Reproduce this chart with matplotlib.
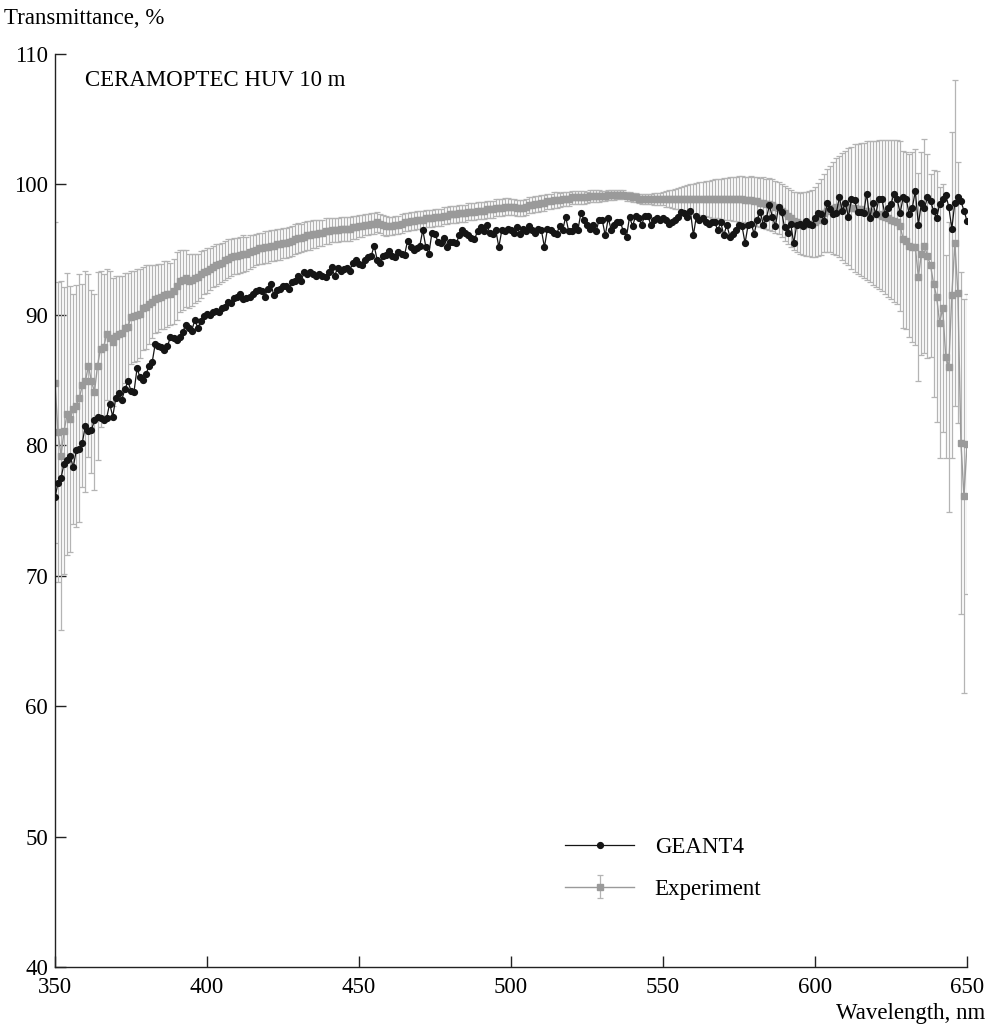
import numpy as np
import matplotlib
matplotlib.use('Agg')
import matplotlib.pyplot as plt

plt.rcParams['font.family'] = ['Liberation Serif', 'DejaVu Serif']
plt.rcParams['mathtext.fontset'] = 'stix'

# GEANT4 simulation, 350..650 nm, 1 nm step
geant4 = [
    76.0, 77.1, 77.5, 78.6, 78.9, 79.2, 78.3, 79.6, 79.7, 80.2,   # 350
    81.5, 81.1, 81.2, 81.9, 82.2, 82.1, 81.9, 82.1, 83.2, 82.2,   # 360
    83.6, 84.0, 83.5, 84.3, 84.9, 84.2, 84.1, 85.9, 85.2, 85.0,   # 370
    85.5, 86.1, 86.4, 87.8, 87.6, 87.5, 87.3, 87.6, 88.3, 88.2,   # 380
    88.1, 88.3, 88.7, 89.2, 89.0, 88.8, 89.6, 89.0, 89.5, 89.9,   # 390
    90.1, 90.0, 90.2, 90.3, 90.2, 90.5, 90.6, 91.0, 90.9, 91.3,   # 400
    91.4, 91.6, 91.2, 91.3, 91.4, 91.6, 91.8, 91.9, 91.8, 91.4,   # 410
    92.0, 92.4, 91.5, 91.9, 92.0, 92.2, 92.2, 92.0, 92.5, 92.6,   # 420
    93.0, 92.6, 93.3, 93.1, 93.3, 93.1, 93.0, 93.1, 93.0, 92.9,   # 430
    93.3, 93.7, 93.0, 93.6, 93.4, 93.5, 93.6, 93.4, 94.0, 94.2,   # 440
    93.9, 93.8, 94.2, 94.4, 94.5, 95.3, 94.2, 94.0, 94.5, 94.6,   # 450
    94.9, 94.5, 94.4, 94.8, 94.7, 94.6, 95.7, 95.2, 95.0, 95.1,   # 460
    95.3, 96.5, 95.2, 94.7, 96.3, 96.2, 95.6, 95.5, 95.9, 95.2,   # 470
    95.6, 95.6, 95.5, 96.1, 96.5, 96.3, 96.1, 95.9, 95.8, 96.4,   # 480
    96.7, 96.4, 96.9, 96.3, 96.2, 96.5, 95.2, 96.5, 96.4, 96.6,   # 490
    96.5, 96.3, 96.7, 96.2, 96.6, 96.4, 96.8, 96.5, 96.3, 96.6,   # 500
    96.5, 95.2, 96.6, 96.5, 96.3, 96.2, 96.8, 96.5, 97.5, 96.4,   # 510
    96.4, 96.8, 96.5, 97.8, 97.3, 96.9, 96.6, 96.9, 96.4, 97.3,   # 520
    97.3, 96.1, 97.4, 96.5, 96.9, 97.1, 97.1, 96.4, 96.0, 97.5,   # 530
    96.8, 97.6, 97.4, 96.9, 97.6, 97.6, 96.9, 97.3, 97.4, 97.3,   # 540
    97.4, 97.3, 97.0, 97.1, 97.3, 97.5, 97.9, 97.8, 97.5, 98.0,   # 550
    96.1, 97.6, 97.3, 97.4, 97.1, 97.0, 97.1, 97.1, 96.5, 97.1,   # 560
    96.1, 96.9, 96.0, 96.2, 96.5, 96.9, 96.8, 95.5, 96.9, 97.0,   # 570
    96.2, 97.3, 97.9, 96.9, 97.4, 98.4, 97.5, 96.8, 98.3, 97.9,   # 580
    96.7, 96.3, 97.0, 95.5, 96.9, 97.0, 96.8, 97.2, 97.0, 96.9,   # 590
    97.4, 97.8, 97.7, 97.2, 98.6, 98.1, 97.7, 97.8, 99.0, 98.0,   # 600
    98.6, 97.5, 98.9, 98.8, 97.9, 97.9, 97.8, 99.3, 97.4, 98.6,   # 610
    97.7, 98.9, 98.9, 97.7, 98.2, 98.5, 99.3, 98.9, 97.8, 99.0,   # 620
    98.9, 97.7, 98.2, 99.5, 96.9, 98.6, 98.2, 99.0, 98.7, 98.0,   # 630
    97.4, 98.5, 98.9, 99.2, 98.3, 96.6, 98.6, 99.0, 98.7, 98.0,   # 640
    97.2,                                                         # 650
]

# Experiment, 350..650 nm, 1 nm step
experiment = [
    84.8, 81.0, 79.2, 81.1, 82.4, 82.0, 82.8, 83.0, 83.6, 84.6,   # 350
    84.9, 86.1, 84.9, 84.1, 86.1, 87.4, 87.5, 88.5, 88.2, 87.9,   # 360
    88.4, 88.5, 88.6, 89.0, 89.1, 89.8, 89.9, 90.0, 90.1, 90.5,   # 370
    90.6, 90.8, 91.0, 91.2, 91.3, 91.4, 91.5, 91.6, 91.6, 91.8,   # 380
    92.2, 92.6, 92.7, 92.8, 92.6, 92.7, 92.8, 92.9, 93.1, 93.3,   # 390
    93.4, 93.5, 93.7, 93.8, 93.9, 94.0, 94.2, 94.3, 94.4, 94.5,   # 400
    94.5, 94.6, 94.7, 94.7, 94.8, 94.9, 95.0, 95.1, 95.1, 95.2,   # 410
    95.2, 95.3, 95.3, 95.4, 95.4, 95.5, 95.5, 95.6, 95.7, 95.8,   # 420
    95.9, 95.9, 96.0, 96.1, 96.1, 96.2, 96.2, 96.3, 96.3, 96.4,   # 430
    96.4, 96.5, 96.5, 96.5, 96.6, 96.6, 96.6, 96.6, 96.7, 96.7,   # 440
    96.8, 96.8, 96.9, 96.9, 97.0, 97.0, 97.1, 97.0, 96.9, 96.8,   # 450
    96.8, 96.8, 96.9, 96.9, 97.0, 97.1, 97.1, 97.2, 97.2, 97.3,   # 460
    97.3, 97.3, 97.4, 97.4, 97.4, 97.5, 97.5, 97.5, 97.6, 97.6,   # 470
    97.7, 97.7, 97.7, 97.8, 97.8, 97.8, 97.9, 97.9, 97.9, 98.0,   # 480
    98.0, 98.0, 98.1, 98.1, 98.1, 98.2, 98.2, 98.2, 98.3, 98.3,   # 490
    98.3, 98.3, 98.2, 98.2, 98.2, 98.3, 98.4, 98.4, 98.5, 98.5,   # 500
    98.6, 98.6, 98.7, 98.7, 98.8, 98.8, 98.8, 98.9, 98.9, 98.9,   # 510
    99.0, 99.0, 99.0, 99.0, 99.0, 99.0, 99.1, 99.1, 99.1, 99.1,   # 520
    99.1, 99.1, 99.2, 99.2, 99.2, 99.2, 99.2, 99.2, 99.1, 99.1,   # 530
    99.0, 99.0, 98.9, 98.9, 98.9, 98.9, 98.9, 98.9, 98.9, 98.9,   # 540
    98.9, 98.9, 98.9, 98.9, 98.9, 98.9, 98.9, 98.9, 98.9, 98.9,   # 550
    98.9, 98.9, 98.9, 98.9, 98.9, 98.9, 98.9, 98.9, 98.9, 98.9,   # 560
    98.9, 98.9, 98.9, 98.9, 98.9, 98.9, 98.9, 98.8, 98.8, 98.8,   # 570
    98.7, 98.7, 98.6, 98.6, 98.5, 98.5, 98.4, 98.3, 98.2, 98.0,   # 580
    97.8, 97.6, 97.4, 97.2, 97.1, 97.0, 97.0, 97.0, 97.0, 97.0,   # 590
    97.1, 97.3, 97.5, 97.8, 98.0, 98.1, 98.2, 98.3, 98.3, 98.3,   # 600
    98.3, 98.3, 98.2, 98.2, 98.1, 98.1, 98.0, 98.0, 97.9, 97.8,   # 610
    97.7, 97.7, 97.6, 97.5, 97.4, 97.3, 97.2, 97.1, 96.8, 95.8,   # 620
    95.7, 95.3, 95.2, 95.2, 92.9, 94.7, 95.3, 94.5, 93.8, 92.4,   # 630
    91.4, 89.4, 90.5, 86.8, 86.0, 91.5, 95.5, 91.7, 80.2, 76.1,   # 640
    80.1,                                                         # 650
]

# half-width of the experimental error bars
experiment_err = [
    12.3, 11.5, 13.4, 11.0, 10.8, 10.2, 8.8, 9.3, 9.5, 7.8,       # 350
    8.5, 7.0, 7.0, 7.5, 7.2, 6.0, 5.6, 5.0, 5.2, 4.9,             # 360
    4.6, 4.5, 4.4, 4.2, 4.1, 3.6, 3.5, 3.5, 3.4, 3.2,             # 370
    3.2, 3.0, 2.8, 2.6, 2.6, 2.5, 2.6, 2.5, 2.4, 2.5,             # 380
    2.6, 2.4, 2.3, 2.2, 2.1, 2.0, 1.9, 1.8, 1.8, 1.7,             # 390
    1.7, 1.6, 1.6, 1.6, 1.5, 1.5, 1.5, 1.5, 1.4, 1.4,             # 400
    1.4, 1.4, 1.4, 1.3, 1.3, 1.2, 1.2, 1.2, 1.2, 1.2,             # 410
    1.2, 1.2, 1.2, 1.2, 1.2, 1.15, 1.15, 1.15, 1.15, 1.15,        # 420
    1.15, 1.1, 1.1, 1.1, 1.1, 1.05, 1.05, 1.0, 1.0, 1.0,          # 430
    1.0, 0.95, 0.95, 0.95, 0.9, 0.9, 0.9, 0.9, 0.85, 0.85,        # 440
    0.85, 0.85, 0.8, 0.8, 0.8, 0.8, 0.75, 0.75, 0.75, 0.75,       # 450
    0.7, 0.7, 0.7, 0.7, 0.7, 0.7, 0.68, 0.68, 0.68, 0.68,         # 460
    0.68, 0.68, 0.65, 0.65, 0.65, 0.65, 0.65, 0.65, 0.65, 0.65,   # 470
    0.65, 0.65, 0.65, 0.65, 0.65, 0.65, 0.65, 0.65, 0.65, 0.65,   # 480
    0.65, 0.65, 0.65, 0.65, 0.65, 0.65, 0.65, 0.65, 0.65, 0.65,   # 490
    0.62, 0.62, 0.62, 0.62, 0.62, 0.62, 0.62, 0.62, 0.62, 0.62,   # 500
    0.6, 0.6, 0.6, 0.6, 0.6, 0.6, 0.55, 0.55, 0.55, 0.55,         # 510
    0.5, 0.5, 0.5, 0.5, 0.5, 0.45, 0.45, 0.45, 0.45, 0.45,        # 520
    0.4, 0.4, 0.4, 0.4, 0.4, 0.35, 0.35, 0.35, 0.35, 0.35,        # 530
    0.35, 0.35, 0.35, 0.4, 0.4, 0.4, 0.4, 0.45, 0.45, 0.45,       # 540
    0.5, 0.6, 0.65, 0.7, 0.75, 0.8, 0.9, 1.0, 1.05, 1.1,          # 550
    1.15, 1.2, 1.25, 1.3, 1.35, 1.4, 1.45, 1.5, 1.5, 1.55,        # 560
    1.6, 1.6, 1.65, 1.7, 1.7, 1.75, 1.75, 1.8, 1.8, 1.85,         # 570
    1.85, 1.9, 1.9, 1.95, 1.95, 2.0, 2.0, 2.0, 2.0, 2.05,         # 580
    2.1, 2.15, 2.2, 2.25, 2.3, 2.35, 2.4, 2.45, 2.5, 2.6,         # 590
    2.7, 2.8, 2.9, 3.0, 3.15, 3.3, 3.5, 3.7, 3.9, 4.1,            # 600
    4.3, 4.5, 4.7, 4.9, 5.0, 5.1, 5.2, 5.3, 5.4, 5.5,             # 610
    5.6, 5.7, 5.8, 5.9, 6.0, 6.1, 6.2, 6.3, 6.5, 6.8,             # 620
    6.8, 7.0, 7.3, 7.5, 8.0, 7.8, 8.2, 7.8, 7.0, 8.7,             # 630
    9.6, 10.4, 9.5, 7.8, 11.1, 12.5, 12.5, 10.0, 13.1, 15.1,      # 640
    11.5,                                                         # 650
]

wl_geant = np.linspace(350, 650, len(geant4))
wl_exp = np.linspace(350, 650, len(experiment))

FS = 16.5

fig = plt.figure(figsize=(9.92, 10.29), dpi=100)
ax = fig.add_axes([0.0554, 0.0603, 0.9194, 0.8872])

exp_plot = ax.errorbar(wl_exp, experiment, yerr=experiment_err, fmt='s-',
                       color='#9a9a9a', ecolor='#b4b4b4', ms=3.8, lw=1.0,
                       elinewidth=0.9, capsize=2.0, capthick=0.9,
                       label='Experiment', zorder=2)
geant_line, = ax.plot(wl_geant, geant4, 'o-', color='#151515', ms=4.2,
                      lw=0.9, label='GEANT4', zorder=3)

ax.set_xlim(350, 650)
ax.set_ylim(40, 110)
ax.set_xticks(np.arange(350, 651, 50))
ax.set_yticks(np.arange(40, 111, 10))
ax.tick_params(direction='in', length=8, width=1.0, labelsize=FS, color='#222222')
ax.tick_params(axis='y', pad=5)
ax.tick_params(axis='x', pad=7)
for s in ['top', 'right']:
    ax.spines[s].set_visible(False)
for s in ['left', 'bottom']:
    ax.spines[s].set_linewidth(1.0)
    ax.spines[s].set_color('#222222')

ax.text(0.033, 0.971, 'CERAMOPTEC HUV 10 m', transform=ax.transAxes,
        fontsize=FS, va='center', ha='left')
fig.text(0.004, 0.982, 'Transmittance, %', fontsize=FS, va='center', ha='left')
fig.text(0.993, 0.015, 'Wavelength, nm', fontsize=FS, va='center', ha='right')

ax.legend([geant_line, exp_plot], ['GEANT4', 'Experiment'], frameon=False,
          loc='upper left', bbox_to_anchor=(0.547, 0.155), borderpad=0,
          fontsize=FS, handlelength=3.0, handletextpad=0.9, labelspacing=0.9)

fig.savefig('out.png', dpi=100)
